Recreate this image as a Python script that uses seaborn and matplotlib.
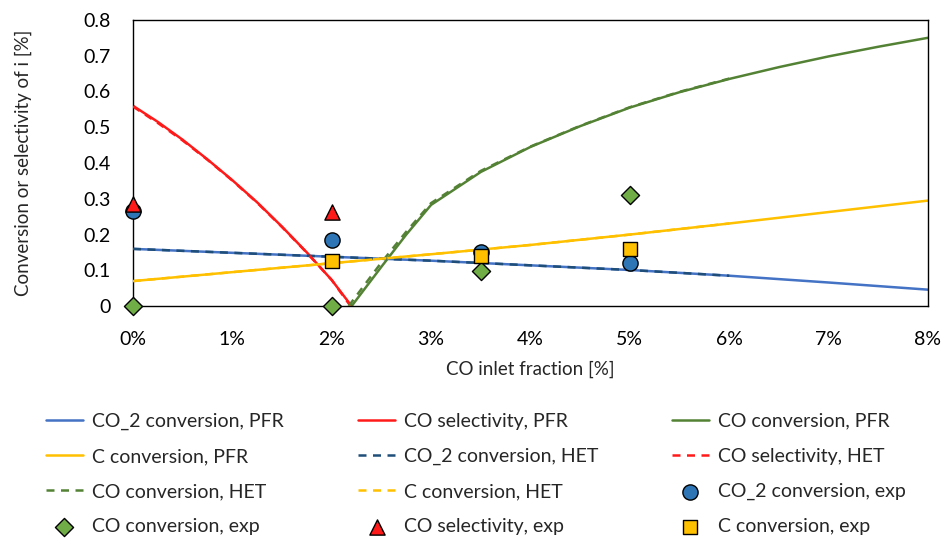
import matplotlib
matplotlib.use("Agg")
import matplotlib.pyplot as plt
import seaborn as sns
from matplotlib.ticker import FuncFormatter, MultipleLocator

sns.set_theme(style="white")
plt.rcParams['font.family'] = ['Lato', 'DejaVu Sans']

# ---------------- data ----------------
co2_x = [0, 1, 2, 3, 4, 5, 6, 7, 8]
co2_pfr = [0.160, 0.149, 0.138, 0.127, 0.114, 0.101, 0.085, 0.066, 0.046]
co2_het_x = [0, 1, 2, 3, 4, 5, 6]
co2_het = [0.160, 0.149, 0.138, 0.127, 0.114, 0.101, 0.085]

sel_x = [0, 0.25, 0.5, 0.75, 1.0, 1.25, 1.5, 1.75, 2.0, 2.2]
sel_pfr = [0.56, 0.515, 0.465, 0.41, 0.352, 0.29, 0.222, 0.15, 0.073, 0.0]
sel_het_x = [0, 0.25, 0.5, 0.75, 1.0, 1.25, 1.5, 1.75, 2.0, 2.19]
sel_het = [0.558, 0.512, 0.463, 0.409, 0.351, 0.289, 0.221, 0.149, 0.073, 0.0]

co_x = [2.2, 2.5, 2.75, 3.0, 3.5, 4.0, 4.5, 5.0, 5.5, 6.0, 6.5, 7.0, 7.5, 8.0]
co_pfr = [0.0, 0.11, 0.2, 0.283, 0.375, 0.445, 0.503, 0.555, 0.598, 0.635, 0.668, 0.698, 0.725, 0.75]
co_het_x = [2.17, 2.5, 2.75, 3.0, 3.5, 4.0, 4.5, 5.0, 5.5, 6.0]
co_het = [0.0, 0.122, 0.208, 0.288, 0.378, 0.446, 0.504, 0.556, 0.599, 0.636]

c_x = [0, 1, 2, 3, 4, 5, 6, 7, 8]
c_pfr = [0.070, 0.095, 0.120, 0.145, 0.171, 0.200, 0.231, 0.263, 0.295]
c_het_x = [0, 1, 2, 3, 4, 5, 6]
c_het = [0.070, 0.095, 0.120, 0.145, 0.171, 0.200, 0.231]

exp_co2_x = [0, 2, 3.5, 5]
exp_co2 = [0.265, 0.185, 0.150, 0.120]
exp_co_x = [0, 2, 3.5, 5]
exp_co = [0.0, 0.0, 0.097, 0.310]
exp_sel_x = [0, 2]
exp_sel = [0.285, 0.262]
exp_c_x = [2, 3.5, 5]
exp_c = [0.125, 0.141, 0.160]

labels = ["CO_2 conversion, PFR", "CO selectivity, PFR", "CO conversion, PFR",
          "C conversion, PFR", "CO_2 conversion, HET", "CO selectivity, HET",
          "CO conversion, HET", "C conversion, HET", "CO_2 conversion, exp",
          "CO conversion, exp", "CO selectivity, exp", "C conversion, exp"]

# ---------------- colours ----------------
BLUE = "#4472C4"
DBLUE = "#1F4E79"
RED = "#FF1A1A"
GREEN = "#548235"
LGREEN = "#70AD47"
YELLOW = "#FFC000"
MBLUE = "#2E75B6"

fig = plt.figure(figsize=(9.45, 5.38), dpi=100)
ax = fig.add_axes([0.1407, 0.431, 0.8413, 0.532])

dash = (0, (3.2, 2.6))
lw = 1.8
sns.lineplot(x=co2_x, y=co2_pfr, ax=ax, color=BLUE, lw=lw, label=labels[0], zorder=2)
sns.lineplot(x=sel_x, y=sel_pfr, ax=ax, color=RED, lw=lw, label=labels[1], zorder=2)
sns.lineplot(x=co_x, y=co_pfr, ax=ax, color=GREEN, lw=lw, label=labels[2], zorder=2)
sns.lineplot(x=c_x, y=c_pfr, ax=ax, color=YELLOW, lw=lw, label=labels[3], zorder=2)
sns.lineplot(x=co2_het_x, y=co2_het, ax=ax, color=DBLUE, lw=lw, linestyle=dash, label=labels[4], zorder=3)
sns.lineplot(x=sel_het_x, y=sel_het, ax=ax, color=RED, lw=lw, linestyle=dash, label=labels[5], zorder=3)
sns.lineplot(x=co_het_x, y=co_het, ax=ax, color=GREEN, lw=lw, linestyle=dash, label=labels[6], zorder=3)
sns.lineplot(x=c_het_x, y=c_het, ax=ax, color=YELLOW, lw=lw, linestyle=dash, label=labels[7], zorder=3)

sns.scatterplot(x=exp_co2_x, y=exp_co2, ax=ax, marker="o", s=120, color=MBLUE,
                edgecolor="black", linewidth=1, label=labels[8], zorder=5)
sns.scatterplot(x=exp_co_x, y=exp_co, ax=ax, marker="D", s=85, color=LGREEN,
                edgecolor="black", linewidth=1, label=labels[9], zorder=5)
sns.scatterplot(x=exp_sel_x, y=exp_sel, ax=ax, marker="^", s=120, color=RED,
                edgecolor="black", linewidth=1, label=labels[10], zorder=5)
sns.scatterplot(x=exp_c_x, y=exp_c, ax=ax, marker="s", s=110, color=YELLOW,
                edgecolor="black", linewidth=1, label=labels[11], zorder=5)

ax.set_xlim(0, 8)
ax.set_ylim(0, 0.8)
ax.xaxis.set_major_locator(MultipleLocator(1))
ax.yaxis.set_major_locator(MultipleLocator(0.1))
ax.xaxis.set_major_formatter(FuncFormatter(lambda v, p: f"{v:.0f}%"))
ax.yaxis.set_major_formatter(FuncFormatter(lambda v, p: "0" if abs(v) < 1e-9 else f"{v:.1f}"))
ax.tick_params(axis="both", direction="inout", length=9.5, width=1, colors="black",
               labelsize=14)
ax.tick_params(axis="y", pad=11)
ax.tick_params(axis="x", pad=13)
for s in ax.spines.values():
    s.set_color("black")
    s.set_linewidth(1)
ax.set_xlabel("CO inlet fraction [%]", fontsize=13.5, labelpad=9)
ax.set_ylabel("Conversion or selectivity of i [%]", fontsize=13.5, labelpad=37)
for coll in ax.collections:
    coll.set_clip_on(False)

handles, labs = ax.get_legend_handles_labels()
ax.get_legend().remove()
order = dict(zip(labs, handles))
cols_x = [0.0487, 0.379, 0.711]
for c in range(3):
    idx = [c, c + 3, c + 6, c + 9]
    fig.legend([order[labels[i]] for i in idx], [labels[i] for i in idx],
               loc="upper left", bbox_to_anchor=(cols_x[c], 0.2329),
               frameon=False, fontsize=14, handlelength=1.9, handletextpad=0.45,
               labelspacing=0.93, borderaxespad=0, borderpad=0)

fig.savefig("out.png", dpi=100)
